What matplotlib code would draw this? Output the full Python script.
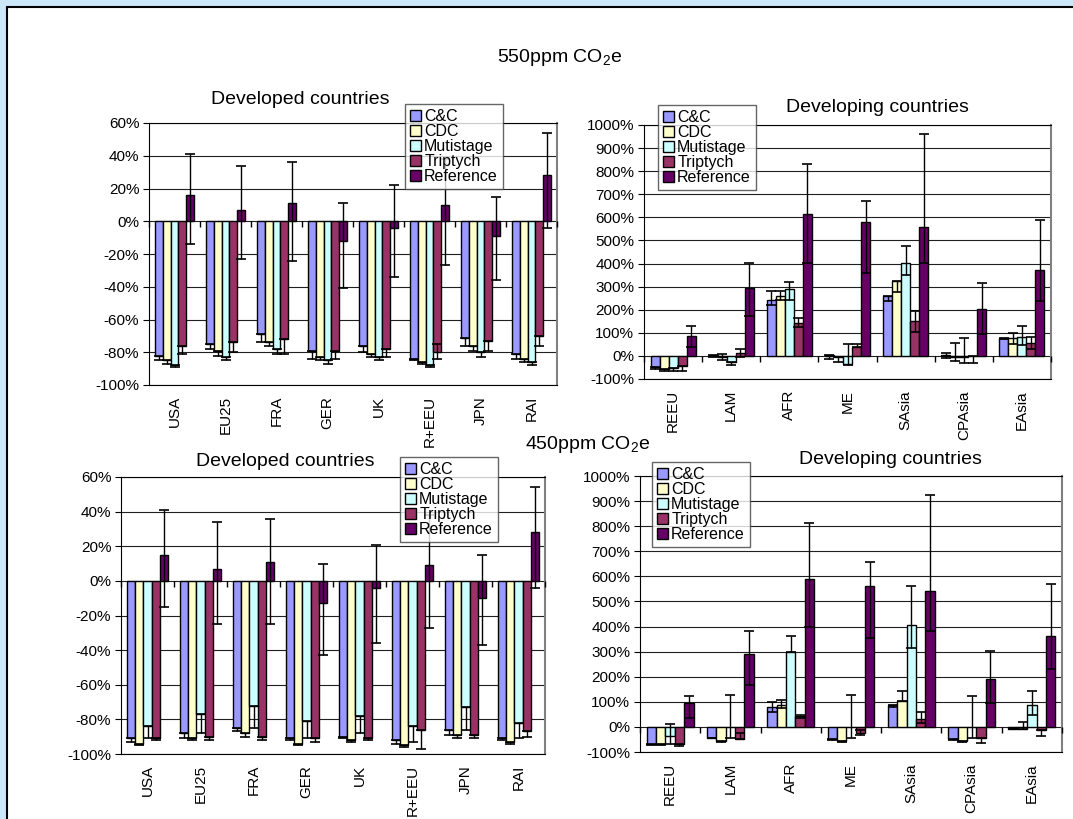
"""Burden-sharing regimes vs reference: % change per region, 550 and 450 ppm CO2e."""

import numpy as np
import matplotlib
matplotlib.use("Agg")
import matplotlib.pyplot as plt
from matplotlib.patches import Patch, Rectangle
from matplotlib.ticker import FuncFormatter, MultipleLocator

plt.rcParams["font.family"] = ["Liberation Sans", "DejaVu Sans"]
plt.rcParams["mathtext.fontset"] = "custom"
plt.rcParams["mathtext.rm"] = "Liberation Sans"
plt.rcParams["mathtext.it"] = "Liberation Sans"

schemes = ["C&C", "CDC", "Mutistage", "Triptych", "Reference"]
colors = ["#9999FF", "#FFFFCC", "#CCFFFF", "#993366", "#660066"]

developed = ["USA", "EU25", "FRA", "GER", "UK", "R+EEU", "JPN", "RAI"]
developing = ["REEU", "LAM", "AFR", "ME", "SAsia", "CPAsia", "EAsia"]

# rows follow `schemes`; values in %, lo/hi are error bar ends
dev550_val = [
    [-82, -75, -69, -79, -76, -84, -71, -81],
    [-85, -79, -74, -83, -81, -86, -76, -84],
    [-88, -83, -78, -85, -83, -88, -80, -86],
    [-76, -74, -72, -79, -78, -80, -73, -70],
    [16, 7, 11, -12, -4, 10, -9, 28],
]
dev550_lo = [
    [-85, -78, -74, -84, -80, -85, -76, -84],
    [-87, -82, -76, -85, -83, -87, -79, -86],
    [-89, -85, -81, -87, -85, -89, -83, -88],
    [-81, -80, -81, -84, -83, -84, -79, -76],
    [-14, -23, -24, -41, -34, -27, -36, -4],
]
dev550_hi = [
    [-82, -75, -69, -79, -76, -84, -71, -81],
    [-85, -79, -74, -83, -81, -86, -76, -84],
    [-88, -83, -78, -85, -83, -88, -80, -86],
    [-76, -76, -72, -79, -78, -75, -73, -70],
    [41, 34, 36, 11, 22, 38, 15, 54],
]

dvl550_val = [
    [-46, 6, 243, 6, 258, 2, 77],
    [-58, -3, 258, -6, 323, -6, 77],
    [-54, -27, 291, -35, 401, -6, 84],
    [-42, 12, 143, 38, 151, 0, 57],
    [85, 294, 616, 580, 559, 201, 371],
]
dvl550_lo = [
    [-55, -3, 219, -14, 238, -9, 75],
    [-67, -17, 241, -27, 275, -20, 52],
    [-67, -38, 243, -38, 349, -30, 49],
    [-64, -6, 125, 38, 103, -30, 30],
    [38, 171, 401, 359, 401, 93, 238],
]
dvl550_hi = [
    [-46, 6, 280, 6, 258, 12, 77],
    [-58, 10, 280, -6, 323, 57, 100],
    [-54, -27, 322, 52, 474, 78, 129],
    [-42, 30, 164, 52, 194, 0, 84],
    [129, 401, 830, 672, 961, 316, 588],
]

dev450_val = [
    [-91, -88, -85, -91, -90, -92, -86, -91],
    [-94, -91, -88, -94, -92, -95, -89, -93],
    [-84, -77, -72, -81, -78, -84, -73, -82],
    [-91, -90, -90, -91, -91, -86, -89, -87],
    [15, 7, 11, -13, -4, 9, -10, 28],
]
dev450_lo = [
    [-93, -91, -87, -92, -91, -94, -89, -92],
    [-95, -92, -90, -95, -93, -96, -91, -94],
    [-91, -88, -85, -91, -88, -93, -86, -91],
    [-92, -92, -92, -93, -92, -97, -91, -90],
    [-15, -25, -25, -43, -36, -27, -37, -4],
]
dev450_hi = [
    [-91, -88, -85, -91, -90, -92, -86, -91],
    [-94, -91, -88, -94, -92, -95, -89, -93],
    [-84, -77, -72, -81, -78, -84, -73, -82],
    [-91, -90, -90, -91, -91, -86, -89, -87],
    [41, 34, 36, 10, 21, 38, 15, 54],
]

dvl450_val = [
    [-70, -43, 79, -49, 88, -49, -8],
    [-70, -57, 86, -57, 103, -57, -8],
    [-35, 0, 300, 0, 405, 0, 88],
    [-70, -49, 43, -26, 32, -43, -13],
    [96, 289, 591, 563, 541, 191, 363],
]
dvl450_lo = [
    [-72, -45, 59, -51, 79, -51, -8],
    [-72, -59, 75, -59, 103, -59, -8],
    [-70, -43, 300, -43, 316, -43, 46],
    [-75, -49, 36, -33, 16, -63, -36],
    [36, 168, 397, 355, 382, 95, 232],
]
dvl450_hi = [
    [-70, -43, 101, -49, 88, -49, -8],
    [-70, -57, 109, -57, 145, -57, 20],
    [13, 129, 363, 129, 563, 122, 145],
    [-70, -26, 49, -13, 59, -43, -13],
    [122, 384, 811, 659, 926, 303, 568],
]

W, H = 1073, 819
fig = plt.figure(figsize=(W / 100, H / 100), dpi=100)
fig.patch.set_facecolor("#CCE8F8")
fig.patches.append(Rectangle((7 / W, -0.05), 1.1, 1 - 7 / H + 0.05, transform=fig.transFigure,
                             facecolor="white", edgecolor="black", linewidth=1.5, zorder=-10))


def px_axes(left, top, right, bottom):
    return fig.add_axes([left / W, 1 - bottom / H, (right - left) / W, (bottom - top) / H])


def panel(ax, cats, val, lo, hi, ylim, step, title, tpos, legpos):
    n = len(cats)
    x = np.arange(n)
    w = 0.155
    for j in range(5):
        v = np.array(val[j], float)
        l = np.array(lo[j], float)
        h = np.array(hi[j], float)
        xs = x + (j - 2) * w
        ax.bar(xs, v, w, color=colors[j], edgecolor="black", linewidth=1.0, zorder=2)
        yerr = [np.maximum(v - l, 0), np.maximum(h - v, 0)]
        ax.errorbar(xs, v, yerr=yerr, fmt="none", ecolor="black", elinewidth=1.0,
                    capsize=3.5, capthick=1.2, zorder=3)
    ax.set_xlim(-0.5, n - 0.5)
    ax.set_ylim(*ylim)
    ax.yaxis.set_major_locator(MultipleLocator(step))
    ax.yaxis.set_major_formatter(FuncFormatter(lambda t, p: f"{t:.0f}%"))
    ax.grid(axis="y", color="#202020", linewidth=0.8, zorder=0)
    ax.set_axisbelow(True)
    ax.set_xticks(x)
    ax.set_xticklabels(cats, rotation=90, fontsize=11)
    ax.tick_params(axis="x", length=0, pad=8)
    ax.tick_params(axis="y", direction="out", length=4, labelsize=11, pad=3)
    # category separators sit on the zero line, like the Excel chart
    ax.plot(np.arange(n + 1) - 0.5, np.zeros(n + 1), linestyle="none", marker=3,
            markersize=4, color="black", markeredgewidth=1, clip_on=False, zorder=4)
    for side in ["left", "bottom", "top"]:
        ax.spines[side].set_color("black")
    ax.spines["right"].set_color("#808080")
    ax.spines["right"].set_linewidth(1.5)
    fig.text(tpos[0] / W, 1 - tpos[1] / H, title, fontsize=14, ha="center", va="center")
    handles = [Patch(facecolor=c, edgecolor="black", linewidth=1) for c in colors]
    leg = ax.legend(handles, schemes, loc="upper left",
                    bbox_to_anchor=(legpos[0] / W, 1 - legpos[1] / H),
                    bbox_transform=fig.transFigure, fontsize=11.5, frameon=True,
                    fancybox=False, borderaxespad=0, borderpad=0.3, labelspacing=0.0,
                    handlelength=0.7, handleheight=0.7, handletextpad=0.2)
    leg.get_frame().set_edgecolor("#404040")
    leg.get_frame().set_linewidth(1.0)
    leg.set_zorder(10)


ax_tl = px_axes(149, 123, 557, 385)
panel(ax_tl, developed, dev550_val, dev550_lo, dev550_hi, (-100, 60), 20,
      "Developed countries", (300, 99), (405, 104))
ax_tr = px_axes(644, 125, 1051, 379)
panel(ax_tr, developing, dvl550_val, dvl550_lo, dvl550_hi, (-100, 1000), 100,
      "Developing countries", (877, 107), (658, 105))
ax_bl = px_axes(121, 477, 545, 754)
panel(ax_bl, developed, dev450_val, dev450_lo, dev450_hi, (-100, 60), 20,
      "Developed countries", (285, 462), (400, 457))
ax_br = px_axes(640, 476, 1062, 752)
panel(ax_br, developing, dvl450_val, dvl450_lo, dvl450_hi, (-100, 1000), 100,
      "Developing countries", (890, 460), (652, 462))

fig.text(560 / W, 1 - 58 / H, "550ppm CO$_2$e", fontsize=14, ha="center", va="center")
fig.text(588 / W, 1 - 445 / H, "450ppm CO$_2$e", fontsize=14, ha="center", va="center")

fig.savefig("out.png", dpi=100, facecolor=fig.get_facecolor())
